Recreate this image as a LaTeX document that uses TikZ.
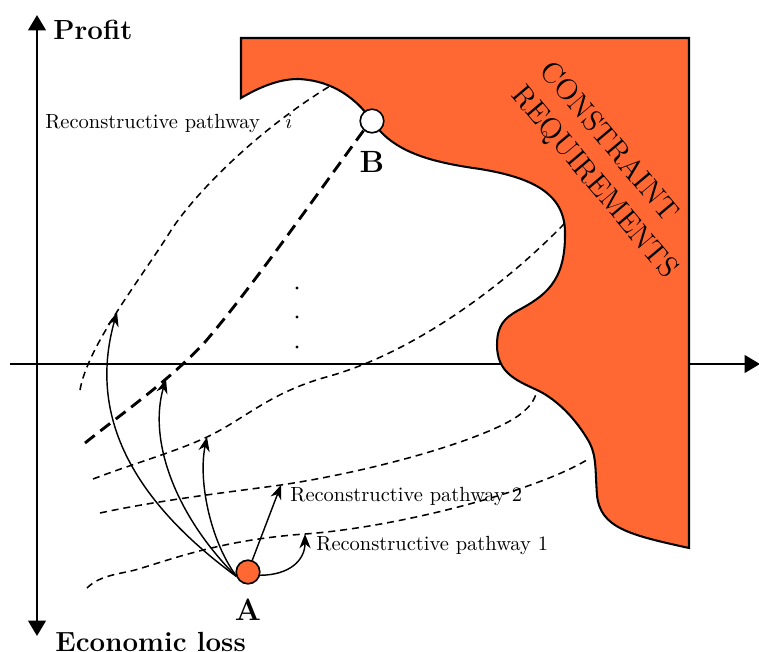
\documentclass[tikz,border=0pt]{standalone}
\usetikzlibrary{arrows.meta}
\definecolor{cons}{RGB}{255,103,51}
\begin{document}
\begin{tikzpicture}[x=0.4878pt,y=-0.4878pt,
  axis/.style={line width=1.4pt,-{Triangle[length=7.5pt,width=8.5pt]}},
  thinpath/.style={line width=0.75pt,dash pattern=on 3.4pt off 2.4pt},
  thickpath/.style={line width=1.4pt,dash pattern=on 6pt off 3.5pt},
  solidarrow/.style={line width=0.7pt,-{Stealth[length=7pt,width=5.5pt]}},
  boldlabel/.style={font=\fontsize{13.5}{16}\selectfont\bfseries,inner sep=0pt,anchor=base west},
  ptlabel/.style={font=\fontsize{15}{18}\selectfont\bfseries,inner sep=0pt,anchor=base},
  pwlabel/.style={inner sep=0pt,anchor=base west},
  state/.style={circle,draw,line width=0.8pt,minimum size=11.5pt,inner sep=0pt}
]
\useasboundingbox (0,0) rectangle (759,652);

% axes
\coordinate (ytop) at (37,15);
\coordinate (ybot) at (37,636);
\coordinate (xleft) at (10,364);
\coordinate (xright) at (760,364);
\draw[axis] (37,330) -- (ytop);
\draw[axis] (37,330) -- (ybot);
\draw[axis] (xleft) -- (xright);

% constraint region
\filldraw[fill=cons,line width=1pt]
  (241,38) -- (689,38) -- (689,548)
  .. controls (630,535) and (600,528) .. (597,495)
  .. controls (595,470) and (597,455) .. (588,440)
  .. controls (572,413) and (552,397) .. (537,390)
  .. controls (515,380) and (497,372) .. (497,345)
  .. controls (497,325) and (505,318) .. (517,311)
  .. controls (545,296) and (565,282) .. (565,235)
  .. controls (566,195) and (535,178) .. (480,169)
  .. controls (430,162) and (393,152) .. (372,121)
  .. controls (352,92) and (325,80) .. (298,79)
  .. controls (278,79) and (258,88) .. (241,98) -- cycle;
\draw[line width=1.3pt] (241,98) -- (241,38) -- (689,38) -- (689,548);

\node[rotate=-50,align=left,font=\Large] (cr) at (608,171) {CONSTRAINT\\REQUIREMENTS};

% arrow targets on pathways
\coordinate (ti) at (117,312);
\coordinate (tb) at (166,379);
\coordinate (tc) at (207,437);
\coordinate (t2) at (281,485);
\coordinate (t1) at (305,534);

% pathways
\draw[thinpath] (80,390) .. controls (88,345) and (140,280) .. (170,232)
  .. controls (190,200) and (250,135) .. (330,86);
\draw[thickpath] (85,443) .. controls (120,415) and (170,380) .. (205,342)
  .. controls (250,290) and (320,190) .. (364,130);
\draw[thinpath] (93,479) .. controls (135,463) and (175,452) .. (tc)
  .. controls (245,419) and (270,392) .. (330,376)
  .. controls (420,350) and (510,280) .. (565,223);
\draw[thinpath] (100,513) .. controls (160,500) and (230,492) .. (t2)
  .. controls (380,470) and (480,440) .. (515,418)
  .. controls (530,408) and (535,400) .. (537,390);
\draw[thinpath] (87,588) .. controls (100,575) and (120,574) .. (135,570)
  .. controls (170,560) and (220,540) .. (t1)
  .. controls (400,527) and (540,490) .. (590,458);

% dots
\fill (297,288) circle (1.6);
\fill (297,317) circle (1.6);
\fill (297,347) circle (1.6);

% states
\node[state,fill=cons] (A) at (248,572) {};
\node[state,fill=white] (B) at (372,121) {};
\node[ptlabel] (Alab) at (248,620) {A};
\node[ptlabel] (Blab) at (372,173) {B};

% arrows from A
\draw[solidarrow] (A.200) .. controls (105,480) and (95,390) .. (ti);
\draw[solidarrow] (A.200) .. controls (175,515) and (148,440) .. (tb);
\draw[solidarrow] (A.195) .. controls (210,540) and (198,480) .. (tc);
\draw[solidarrow] (A.70) -- (t2);
\draw[solidarrow] (A.-15) .. controls (290,575) and (305,560) .. (t1);

% labels
\node[boldlabel] (profit) at (53,40) {Profit};
\node[boldlabel] (loss) at (55,651) {Economic loss};
\node[pwlabel] (pwi) at (45,129) {Reconstructive pathway};
\node[pwlabel] (pwiidx) at (285,129) {$i$};
\node[pwlabel] (pw2) at (290,501) {Reconstructive pathway 2};
\node[pwlabel] (pw1) at (316,550) {Reconstructive pathway 1};
\end{tikzpicture}
\end{document}
